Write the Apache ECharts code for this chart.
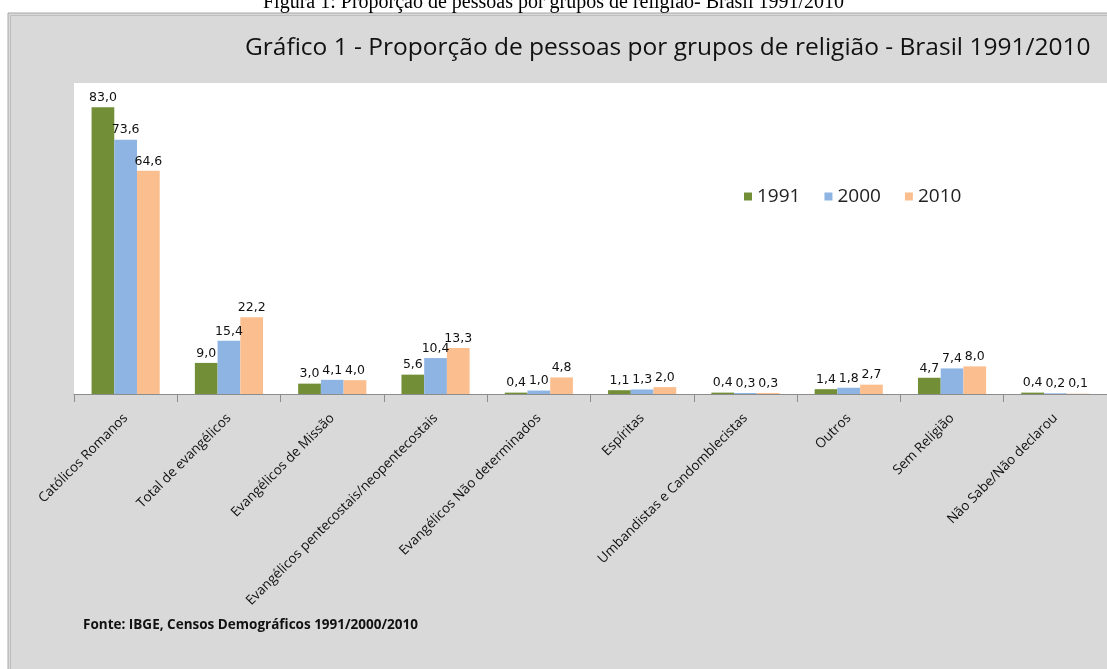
<!DOCTYPE html>
<html>
<head>
<meta charset="utf-8">
<script src="https://cdn.jsdelivr.net/npm/echarts@6/dist/echarts.min.js"></script>
<style>
html,body{margin:0;padding:0;background:#fff;}
#c{width:1107px;height:669px;}
</style>
</head>
<body>
<div id="c"></div>
<script>
const categories = [
  'Católicos Romanos',
  'Total de evangélicos',
  'Evangélicos de Missão',
  'Evangélicos pentecostais/neopentecostais',
  'Evangélicos Não determinados',
  'Espíritas',
  'Umbandistas e Candomblecistas',
  'Outros',
  'Sem Religião',
  'Não Sabe/Não declarou'
];
const seriesNames = ['1991', '2000', '2010'];
const values1991 = [83.0, 9.0, 3.0, 5.6, 0.4, 1.1, 0.4, 1.4, 4.7, 0.4];
const values2000 = [73.6, 15.4, 4.1, 10.4, 1.0, 1.3, 0.3, 1.8, 7.4, 0.2];
const values2010 = [64.6, 22.2, 4.0, 13.3, 4.8, 2.0, 0.3, 2.7, 8.0, 0.1];
const colors = ['#728f38', '#8db4e2', '#fbbf8f'];

const chart = echarts.init(document.getElementById('c'), null, {renderer: 'canvas'});
const fmt = p => p.value.toFixed(1).replace('.', ',');
const mk = (name, data, color) => ({
  name: name,
  type: 'bar',
  data: data,
  barGap: '0%',
  barCategoryGap: '34%',
  itemStyle: {color: color},
  label: {
    show: true,
    position: 'top',
    distance: 3,
    formatter: fmt,
    fontFamily: 'DejaVu Sans',
    fontSize: 12.5,
    color: '#111'
  }
});

chart.setOption({
  animation: false,
  backgroundColor: '#ffffff',
  graphic: [
    {type: 'rect', shape: {x: 8, y: 13, width: 1110, height: 670},
     style: {fill: '#d9d9d9', stroke: '#a8a8a8', lineWidth: 1}, z: -10},
    {type: 'rect', shape: {x: 10.5, y: 15.5, width: 1110, height: 670},
     style: {fill: 'none', stroke: '#bdbdbd', lineWidth: 1}, z: -9},
    {type: 'text', left: 'center', top: -7,
     style: {text: 'Figura 1: Proporção de pessoas por grupos de religião- Brasil 1991/2010',
             font: '20px "Liberation Serif"', fill: '#000'}},
    {type: 'text', left: 83, top: 618,
     style: {text: 'Fonte: IBGE, Censos Demográficos 1991/2000/2010',
             font: 'bold 13.5px "Open Sans"', fill: '#111'}}
  ],
  title: {
    text: 'Gráfico 1 - Proporção de pessoas por grupos de religião - Brasil 1991/2010',
    left: 240, top: 31,
    textStyle: {fontFamily: 'Open Sans', fontWeight: 'normal', fontSize: 24.5, color: '#111'}
  },
  legend: {
    data: seriesNames,
    left: 739, top: 182,
    icon: 'rect',
    itemWidth: 8, itemHeight: 8,
    itemGap: 24,
    textStyle: {fontFamily: 'Open Sans', fontSize: 19, color: '#222'}
  },
  grid: {
    left: 74, top: 83, width: 1036, bottom: 275,
    show: true, backgroundColor: '#ffffff', borderWidth: 0
  },
  xAxis: {
    type: 'category',
    data: categories,
    axisLine: {lineStyle: {color: '#8c8c8c', width: 1}},
    axisTick: {show: true, length: 8, lineStyle: {color: '#8c8c8c'}},
    axisLabel: {
      interval: 0, rotate: 45, margin: 22,
      fontFamily: 'Open Sans', fontSize: 13.5, color: '#111'
    }
  },
  yAxis: {
    type: 'value', min: 0, max: 90,
    show: false,
    splitLine: {show: false}
  },
  series: [
    mk(seriesNames[0], values1991, colors[0]),
    mk(seriesNames[1], values2000, colors[1]),
    mk(seriesNames[2], values2010, colors[2])
  ]
});
</script>
</body>
</html>
